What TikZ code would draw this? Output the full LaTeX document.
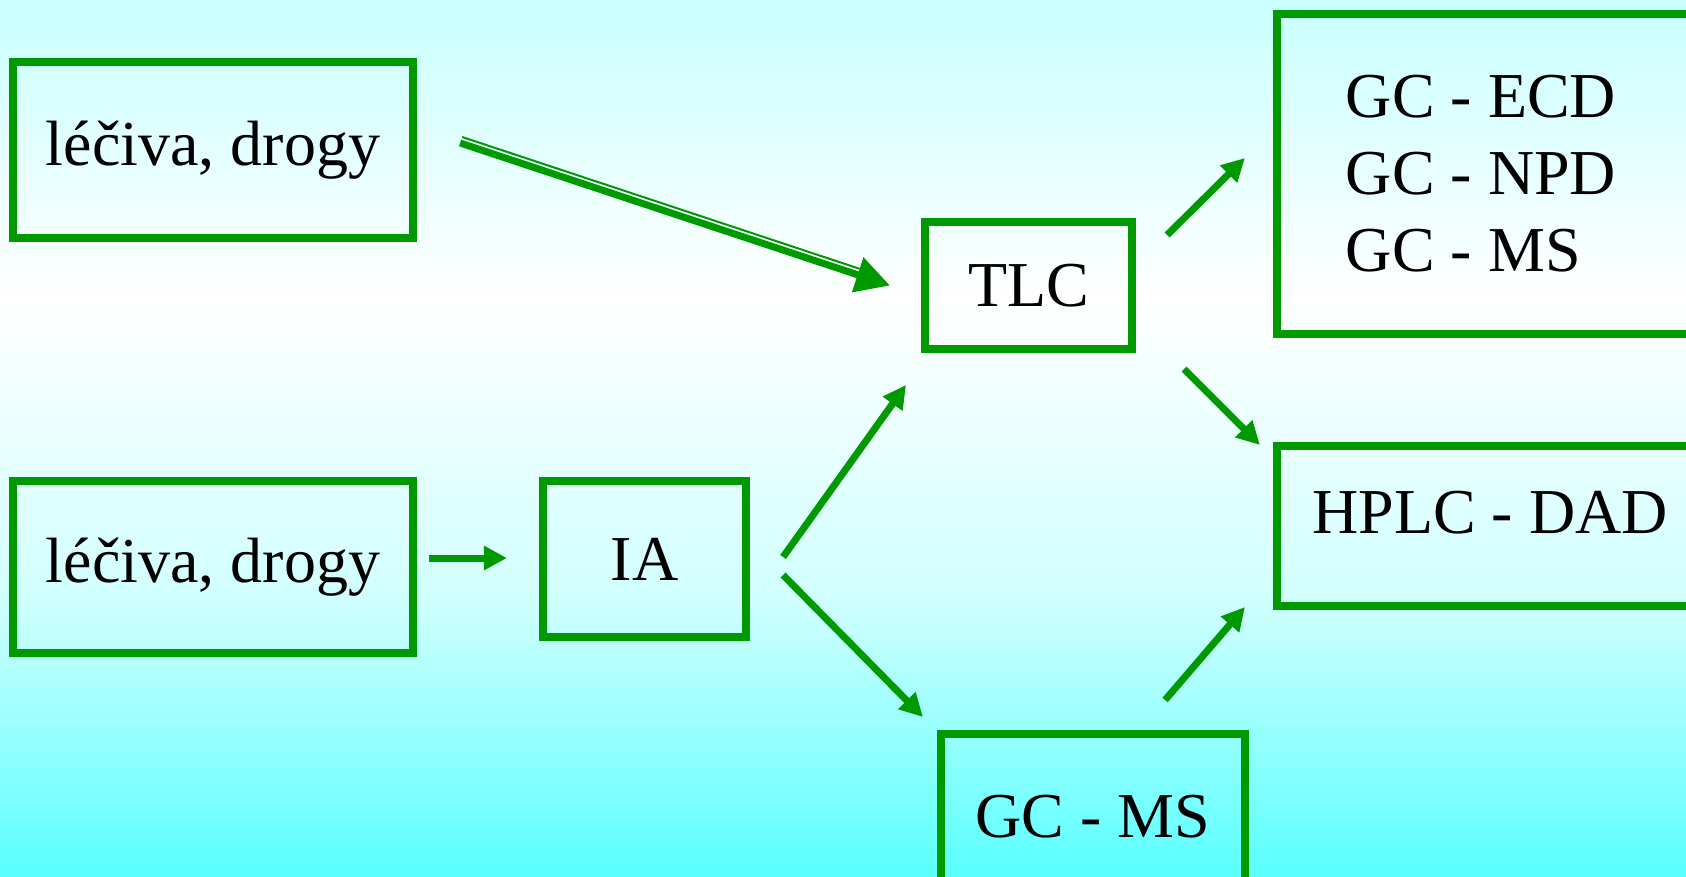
\documentclass[tikz,border=0pt]{standalone}
\usepackage{fontspec}
\setmainfont{Liberation Serif}
\usetikzlibrary{arrows.meta}
\definecolor{framegreen}{RGB}{0,153,0}
\definecolor{bgtop}{RGB}{200,255,255}
\definecolor{bglow}{RGB}{208,255,255}
\definecolor{bgbot}{RGB}{90,255,255}
\begin{document}
\begin{tikzpicture}[x=0.01cm, y=-0.01cm,
	box/.style={draw=framegreen, line width=0.08cm, inner sep=0pt, outer sep=0pt,
		font=\fontsize{18.2}{21.9}\selectfont},
	arr/.style={draw=framegreen, line width=0.07cm, -{Triangle[length=0.23cm,width=0.23cm]}}]
		% Background
		\useasboundingbox (0,0) rectangle (1686,876);
		\clip (0,0) rectangle (1686,876);
		\shade[top color=bgtop, bottom color=white] (0,0) rectangle (1686,300);
		\shade[top color=white, bottom color=bglow] (0,299) rectangle (1686,600);
		\shade[top color=bglow, bottom color=bgbot] (0,599) rectangle (1686,876);
		
		% Boxes
		\node[box, minimum width=4cm, minimum height=1.76cm] (lek1) at (213,150) {léčiva, drogy};
		\node[box, minimum width=4cm, minimum height=1.72cm] (lek2) at (213,567) {léčiva, drogy};
		\node[box, minimum width=2.03cm, minimum height=1.55cm] (ia) at (644.5,559) {IA};
		\node[box, minimum width=2.07cm, minimum height=1.27cm] (tlc) at (1028.5,285.5) {TLC};
		\node[box, minimum width=3.04cm, minimum height=1.66cm] (gcms) at (1093,817) {GC - MS};
		\node[box, minimum width=4.26cm, minimum height=3.2cm, align=left] (gcdet) at (1490,174)
			{GC - ECD\hspace*{0.18cm}\\GC - NPD\\GC - MS};
		\node[box, minimum width=4.26cm, minimum height=1.6cm, text depth=0.28cm] (hplc) at (1490,526) {HPLC - DAD};
		
		% Double arrow
		\draw[arr, -{Triangle[length=0.34cm,width=0.35cm]}]
			([shift={(47,-7)}]lek1.east) -- ([shift={(-35,0)}]tlc.west);
		\draw[framegreen, line width=0.02cm, shorten >=0.34cm]
			([shift={(49,-13)}]lek1.east) -- ([shift={(-33,-6)}]tlc.west);
		
		% Arrows
		\draw[arr] ([shift={(16,-9)}]lek2.east) -- ([shift={(-36,-1)}]ia.west);
		\draw[arr] ([shift={(37,-2)}]ia.east) -- ([shift={(-19,36)}]tlc.south west);
		\draw[arr] ([shift={(37,16)}]ia.east) -- ([shift={(-18,-17)}]gcms.north west);
		\draw[arr] ([shift={(35,13)}]tlc.north east) -- ([shift={(-32,-16)}]gcdet.west);
		\draw[arr] ([shift={(52,20)}]tlc.south east) -- ([shift={(-17,-1)}]hplc.north west);
		\draw[arr] ([shift={(-80,-34)}]gcms.north east) -- ([shift={(-32,1)}]hplc.south west);
	\end{tikzpicture}
\end{document}
